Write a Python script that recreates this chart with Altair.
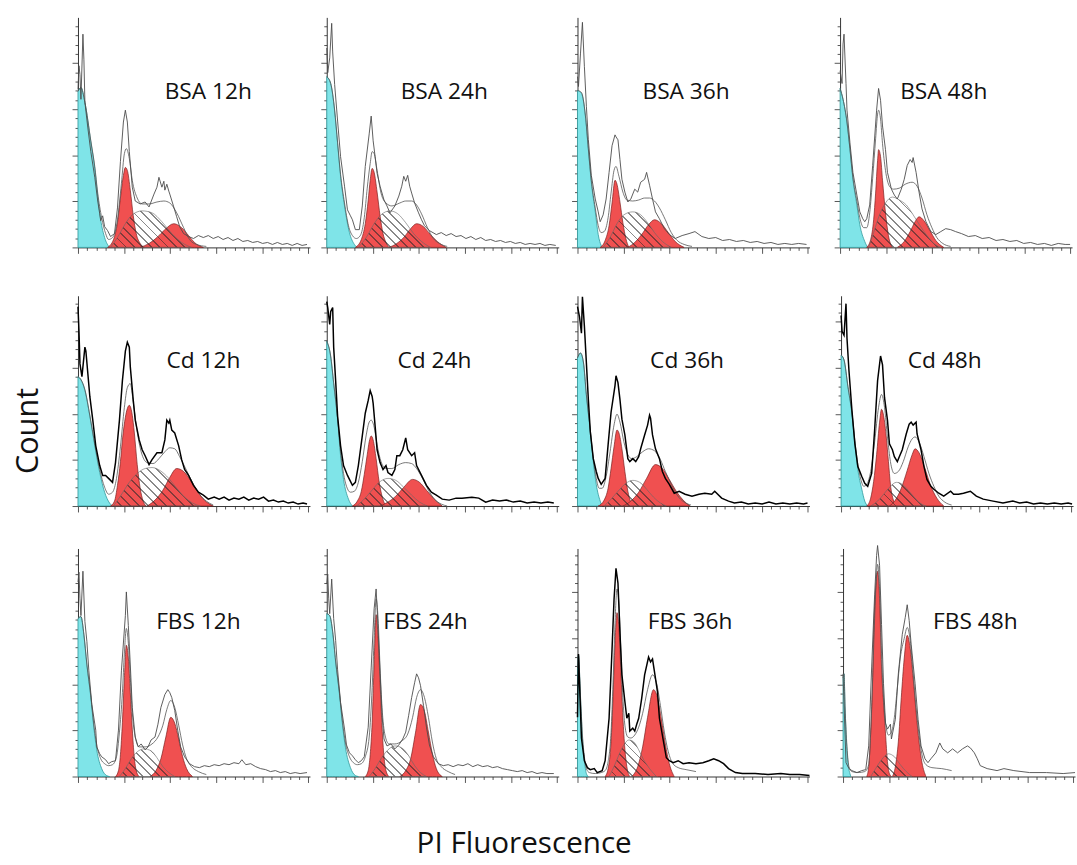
import math
import altair as alt
import pandas as pd

# ---------------- data (x = PI channel, y = count) ----------------
# Row 1 : BSA
BSA12_cyan = [[0,158],[3,162],[7,147],[13,107],[17,80],[20,52],[23,28],[27,10],[32,0]]
BSA12_g1 = [[30,0],[36,8],[40,25],[43,50],[46,73],[48,81],[50,78],[53,58],[56,32],[59,14],[63,4],[67,0]]
BSA12_s = [[33,0],[40,10],[48,24],[55,33],[65,37],[75,35],[85,26],[95,14],[105,5],[115,0]]
BSA12_g2 = [[63,0],[72,4],[80,10],[88,18],[97,24],[105,20],[112,12],[118,5],[127,0]]
BSA12_fit = [[0,158],[3,162],[7,147],[13,108],[17,82],[20,55],[24,30],[28,14],[31,8],[35,10],[40,28],[44,65],[47,95],[49,100],[52,90],[55,68],[60,50],[65,44],[72,44],[80,46],[87,47],[93,45],[100,35],[107,20],[113,8],[120,3],[130,1]]
BSA12_hist = [[0,160],[1,184],[2,175],[3,150],[5,216],[6,190],[7,147],[10,121],[13,97],[17,71],[20,47],[22,34],[23,27],[25,32],[27,21],[30,17],[33,11],[37,14],[40,40],[43,87],[46,127],[48,139],[50,127],[52,97],[55,61],[58,47],[63,44],[68,46],[72,41],[77,54],[80,61],[82,71],[85,61],[87,67],[88,58],[90,64],[92,57],[93,54],[97,41],[100,31],[103,21],[107,14],[112,11],[117,9],[122,12],[127,10],[132,12],[137,9],[142,11],[147,8],[152,10],[157,7],[162,9],[167,6],[172,7],[177,5],[182,6],[187,4],[192,5],[197,3],[202,5],[207,3],[212,4],[217,2],[222,4],[227,2],[232,3]]

BSA24_cyan = [[0,173],[4,166],[8,138],[11,105],[14,72],[18,42],[23,15],[28,3],[31,0]]
BSA24_g1 = [[29,0],[35,8],[39,24],[42,48],[44,68],[46,80],[48,76],[51,56],[54,32],[57,14],[60,5],[63,0]]
BSA24_s = [[32,0],[40,10],[48,24],[55,33],[64,37],[72,34],[80,25],[88,14],[96,6],[105,0]]
BSA24_g2 = [[63,0],[71,4],[78,10],[85,19],[91,24],[98,21],[105,13],[112,6],[121,0]]
BSA24_fit = [[0,173],[4,166],[8,139],[11,106],[14,74],[18,45],[22,22],[26,12],[30,9],[34,12],[38,30],[41,60],[44,85],[46,97],[48,95],[51,78],[55,55],[60,45],[66,42],[74,45],[80,47],[86,47],[91,43],[96,34],[102,20],[108,9],[114,4],[122,1]]
BSA24_hist = [[0,202],[1,177],[3,192],[5,227],[6,198],[8,165],[11,128],[14,92],[18,62],[21,38],[24,32],[26,28],[29,18],[33,18],[36,42],[39,82],[43,115],[45,133],[47,108],[49,92],[51,75],[54,62],[58,48],[61,42],[64,35],[69,42],[73,52],[76,62],[78,72],[80,67],[82,73],[84,62],[86,55],[89,45],[93,35],[96,28],[99,22],[104,17],[111,13],[116,15],[121,12],[126,14],[131,11],[136,12],[141,9],[146,11],[151,8],[156,10],[161,7],[166,8],[171,6],[176,7],[181,5],[186,6],[191,4],[196,5],[201,3],[206,4],[211,3],[216,4],[221,2],[226,3],[232,2]]

BSA36_cyan = [[0,159],[4,156],[8,133],[11,99],[14,66],[18,36],[21,13],[24,2],[26,0]]
BSA36_g1 = [[23,0],[28,7],[32,22],[35,45],[38,68],[40,64],[43,46],[46,25],[49,9],[52,0]]
BSA36_s = [[26,0],[33,10],[40,24],[47,33],[56,36],[64,33],[71,25],[78,15],[86,6],[95,0]]
BSA36_g2 = [[51,0],[58,5],[65,13],[72,23],[78,28],[85,24],[92,15],[99,6],[108,0]]
BSA36_fit = [[0,159],[4,157],[8,134],[11,100],[14,68],[18,40],[21,22],[24,15],[27,16],[31,30],[34,55],[37,78],[39,82],[42,72],[46,56],[50,48],[56,47],[62,48],[68,50],[73,50],[78,47],[83,40],[89,28],[95,15],[101,7],[108,3],[116,1]]
BSA36_hist = [[0,173],[1,163],[3,196],[5,228],[7,183],[9,143],[11,109],[14,73],[18,49],[21,36],[23,26],[26,33],[29,49],[32,76],[35,103],[38,114],[39,112],[41,109],[43,89],[45,69],[48,56],[51,46],[54,49],[58,59],[61,56],[64,66],[68,69],[70,76],[73,63],[76,49],[79,36],[83,29],[88,19],[93,13],[99,9],[106,12],[113,14],[119,16],[126,11],[133,9],[140,10],[147,7],[154,8],[161,6],[168,7],[175,5],[182,6],[189,4],[196,5],[203,3],[210,4],[217,3],[224,4],[232,3]]

BSA48_cyan = [[0,161],[3,150],[7,126],[10,99],[13,69],[17,43],[20,23],[25,6],[28,0]]
BSA48_g1 = [[27,0],[31,8],[34,28],[36,55],[38,88],[39,99],[41,92],[43,68],[46,35],[49,12],[53,0]]
BSA48_s = [[29,0],[34,15],[40,33],[46,45],[53,51],[60,48],[67,43],[74,33],[81,22],[88,12],[95,4],[102,0]]
BSA48_g2 = [[58,0],[65,6],[71,16],[76,26],[80,31],[85,27],[91,17],[97,7],[105,0]]
BSA48_fit = [[0,161],[3,150],[7,127],[10,100],[13,71],[17,47],[20,30],[24,20],[27,20],[30,35],[33,70],[36,110],[38,135],[39,139],[41,130],[43,105],[46,78],[50,62],[54,59],[60,60],[66,64],[73,66],[78,62],[83,50],[88,33],[93,20],[98,10],[104,4],[112,1]]
BSA48_hist = [[0,179],[2,166],[3,206],[4,216],[6,166],[7,139],[10,106],[13,76],[17,53],[20,36],[23,29],[25,26],[27,29],[30,43],[33,83],[37,139],[39,161],[41,149],[43,123],[46,99],[48,76],[52,59],[55,53],[58,49],[62,59],[65,69],[68,83],[71,89],[73,86],[74,91],[77,76],[80,56],[83,39],[87,26],[92,16],[97,13],[102,16],[107,19],[112,18],[117,16],[123,14],[130,11],[137,12],[144,9],[151,10],[158,7],[165,8],[172,6],[179,7],[186,4],[193,5],[200,3],[207,4],[214,2],[221,4],[228,3],[233,3]]

# Row 2 : Cd
CD12_cyan = [[0,131],[3,128],[7,117],[12,91],[17,61],[22,34],[27,14],[32,3],[35,0]]
CD12_g1 = [[33,0],[37,5],[40,21],[43,45],[45,67],[48,90],[52,102],[55,92],[57,75],[60,42],[63,18],[66,5],[69,0]]
CD12_s = [[36,0],[43,10],[52,24],[60,33],[68,38],[75,39],[83,36],[92,28],[100,18],[108,9],[116,3],[124,0]]
CD12_g2 = [[70,0],[78,6],[86,16],[93,29],[100,38],[107,35],[114,26],[121,15],[128,6],[137,0]]
CD12_fit = [[0,131],[3,128],[7,118],[12,92],[17,63],[22,37],[27,19],[31,12],[35,14],[39,28],[43,60],[47,100],[50,120],[53,124],[56,105],[60,75],[64,55],[70,44],[76,43],[82,48],[88,55],[93,59],[98,58],[103,50],[110,36],[117,22],[123,12],[130,5],[137,1]]
CD12_hist = [[0,202],[1,177],[2,144],[4,131],[7,161],[8,157],[10,134],[12,111],[15,87],[18,61],[22,41],[25,31],[28,31],[32,27],[35,24],[38,44],[42,87],[45,127],[48,157],[50,166],[52,161],[53,141],[56,107],[58,87],[62,67],[65,57],[68,51],[72,42],[75,47],[80,54],[85,54],[88,67],[90,87],[92,84],[93,87],[95,77],[98,74],[102,61],[105,47],[108,37],[112,31],[117,21],[122,14],[127,11],[132,7],[138,9],[143,7],[148,9],[153,6],[158,8],[163,7],[168,9],[173,6],[178,8],[183,7],[188,9],[193,5],[198,6],[203,4],[208,5],[213,3],[218,4],[223,2],[228,3],[232,2]]

CD24_cyan = [[0,167],[4,151],[7,124],[11,87],[14,51],[17,27],[22,7],[26,0]]
CD24_g1 = [[26,0],[31,5],[35,15],[38,32],[41,52],[43,65],[45,71],[47,67],[50,48],[53,25],[56,10],[59,2],[62,0]]
CD24_s = [[30,0],[37,6],[45,15],[53,24],[62,28],[70,26],[78,19],[86,11],[94,4],[102,0]]
CD24_g2 = [[54,0],[62,4],[70,10],[78,19],[87,27],[94,24],[101,16],[108,8],[117,0]]
CD24_fit = [[0,167],[4,152],[7,125],[11,89],[14,55],[17,33],[20,20],[24,14],[28,15],[32,24],[36,45],[40,72],[43,85],[45,87],[48,80],[51,62],[55,45],[60,38],[66,38],[73,42],[80,44],[86,43],[91,38],[97,28],[103,16],[109,7],[116,2],[122,0]]
CD24_hist = [[0,207],[1,201],[3,184],[4,197],[6,201],[7,161],[9,127],[11,91],[14,61],[17,41],[21,31],[23,27],[26,21],[29,24],[32,41],[36,71],[39,94],[42,107],[44,117],[46,111],[47,104],[49,81],[51,57],[54,44],[57,37],[60,41],[62,34],[66,31],[69,37],[71,51],[74,51],[77,57],[80,69],[82,57],[86,51],[89,54],[91,41],[96,31],[101,21],[106,14],[111,11],[117,7],[124,6],[131,8],[137,8],[147,9],[154,8],[161,4],[168,6],[175,5],[182,6],[189,4],[196,5],[203,3],[210,4],[217,3],[224,4],[230,3]]

CD36_cyan = [[0,150],[3,155],[6,145],[9,112],[13,75],[16,45],[19,22],[23,5],[25,0]]
CD36_g1 = [[21,0],[27,6],[31,18],[34,38],[37,60],[40,77],[42,74],[45,58],[48,35],[51,15],[54,4],[57,0]]
CD36_s = [[27,0],[34,7],[42,16],[49,23],[56,26],[63,24],[70,17],[77,9],[84,3],[90,0]]
CD36_g2 = [[46,0],[54,5],[62,14],[70,28],[79,42],[86,38],[93,27],[100,15],[107,6],[114,0]]
CD36_fit = [[0,150],[3,155],[6,146],[9,113],[13,77],[16,48],[19,28],[22,18],[25,18],[29,30],[33,55],[37,82],[40,93],[43,85],[47,65],[51,52],[55,48],[60,50],[66,55],[72,58],[78,56],[84,47],[89,35],[95,22],[101,11],[108,4],[115,1]]
CD36_hist = [[0,202],[2,192],[4,175],[5,212],[7,182],[9,145],[11,108],[13,75],[16,48],[19,35],[21,28],[24,22],[28,28],[31,62],[34,95],[38,122],[39,132],[41,125],[43,108],[45,88],[48,72],[51,48],[53,45],[56,48],[59,45],[62,50],[64,58],[68,72],[71,82],[73,92],[74,89],[76,72],[79,58],[83,48],[86,35],[89,28],[93,22],[98,13],[103,15],[109,12],[116,10],[123,12],[129,13],[136,12],[139,15],[146,8],[153,5],[159,3],[166,4],[173,2],[180,3],[187,2],[194,4],[201,2],[208,3],[215,2],[222,3],[229,2],[233,3]]

CD48_cyan = [[0,153],[3,148],[7,120],[11,93],[14,63],[17,37],[21,17],[24,5],[27,0]]
CD48_g1 = [[26,0],[30,8],[33,25],[36,52],[39,85],[41,98],[43,92],[46,68],[48,45],[50,22],[53,6],[56,0]]
CD48_s = [[30,0],[37,5],[44,13],[50,20],[56,24],[62,22],[68,16],[74,9],[80,3],[86,0]]
CD48_g2 = [[49,0],[55,6],[61,18],[67,36],[72,52],[75,58],[79,54],[85,38],[91,20],[97,8],[104,0]]
CD48_fit = [[0,153],[3,148],[7,121],[11,95],[14,66],[17,42],[20,27],[23,20],[26,22],[30,35],[34,65],[38,100],[41,113],[44,100],[47,70],[50,45],[54,33],[58,35],[63,45],[68,60],[72,68],[75,70],[79,65],[84,50],[89,33],[94,20],[99,10],[105,4],[112,1]]
CD48_hist = [[0,193],[1,177],[3,173],[5,205],[6,170],[8,137],[11,97],[14,63],[17,40],[21,30],[24,23],[27,20],[31,33],[34,77],[37,127],[40,152],[42,143],[44,110],[47,87],[49,63],[52,57],[54,50],[57,45],[59,50],[62,57],[66,73],[69,83],[71,85],[73,82],[76,85],[77,73],[81,57],[84,40],[87,27],[91,20],[94,17],[99,13],[104,10],[111,15],[114,12],[119,12],[124,13],[131,15],[137,10],[144,7],[154,5],[164,3],[174,5],[181,3],[188,4],[195,2],[202,3],[209,2],[216,3],[223,2],[230,3],[234,2]]

# Row 3 : FBS
FBS12_cyan = [[0,160],[3,162],[6,143],[9,113],[13,80],[16,50],[19,27],[24,8],[29,1],[32,0]]
FBS12_g1 = [[38,0],[41,6],[43,22],[45,55],[47,100],[49,133],[51,120],[53,85],[55,48],[57,20],[59,6],[62,0]]
FBS12_s = [[42,0],[48,8],[54,18],[60,25],[67,28],[74,26],[80,19],[86,10],[92,4],[98,0]]
FBS12_g2 = [[73,0],[79,6],[84,18],[89,40],[94,60],[98,54],[102,38],[106,20],[110,8],[116,0]]
FBS12_fit = [[0,160],[3,162],[6,144],[9,114],[13,82],[16,53],[19,32],[23,18],[27,13],[31,11],[35,12],[39,20],[42,45],[45,85],[47,125],[49,150],[51,135],[53,100],[55,65],[58,40],[62,30],[68,30],[75,33],[81,40],[86,52],[90,68],[94,77],[98,70],[102,52],[106,32],[110,18],[115,10],[122,5],[130,2]]
FBS12_hist = [[0,197],[1,207],[2,180],[3,163],[5,208],[7,157],[9,137],[11,107],[14,73],[18,47],[19,30],[22,23],[24,20],[28,17],[31,13],[34,15],[38,16],[41,47],[44,107],[48,163],[49,187],[51,153],[53,113],[55,70],[58,40],[61,30],[64,33],[68,27],[71,30],[74,37],[78,40],[81,53],[84,70],[88,83],[91,88],[93,85],[95,80],[98,67],[101,47],[104,30],[108,20],[113,13],[118,10],[123,9],[128,11],[133,10],[138,12],[143,11],[148,13],[153,12],[158,14],[163,13],[166,17],[170,12],[175,13],[180,10],[185,8],[190,7],[195,5],[200,6],[205,4],[210,5],[215,3],[220,4],[225,3],[232,4]]

FBS24_cyan = [[0,165],[3,163],[6,146],[9,116],[13,82],[16,52],[19,29],[24,9],[29,1],[32,0]]
FBS24_g1 = [[39,0],[42,6],[44,22],[46,55],[48,115],[50,164],[52,140],[54,95],[56,50],[58,20],[60,6],[63,0]]
FBS24_s = [[43,0],[49,8],[55,18],[62,27],[69,31],[76,29],[83,21],[89,11],[95,4],[101,0]]
FBS24_g2 = [[74,0],[80,6],[85,18],[90,45],[95,73],[99,66],[103,45],[107,23],[111,8],[117,0]]
FBS24_fit = [[0,165],[3,163],[6,147],[9,117],[13,84],[16,55],[19,34],[23,20],[27,14],[31,12],[35,13],[39,20],[43,40],[46,90],[48,140],[50,180],[52,160],[54,110],[56,70],[59,42],[63,33],[69,33],[76,36],[82,43],[87,60],[91,80],[95,88],[99,80],[103,60],[107,35],[111,18],[116,10],[123,5],[130,2]]
FBS24_hist = [[0,195],[1,205],[2,180],[3,165],[5,200],[7,160],[9,138],[11,108],[14,75],[18,48],[20,32],[23,24],[26,21],[29,17],[32,14],[35,16],[38,20],[42,50],[45,110],[48,170],[50,190],[52,150],[54,105],[56,62],[58,38],[61,31],[65,33],[69,28],[73,32],[77,38],[80,45],[83,62],[86,80],[89,95],[91,104],[93,100],[95,92],[98,72],[101,50],[104,32],[108,20],[113,13],[118,11],[123,12],[128,10],[133,12],[138,11],[143,13],[148,10],[153,12],[158,10],[163,11],[168,9],[173,10],[178,8],[183,7],[188,6],[193,5],[198,6],[203,4],[208,5],[213,3],[218,4],[223,3],[230,3]]

FBS36_cyan = [[0,110],[1,123],[3,80],[5,39],[7,16],[9,3],[11,0]]
FBS36_g1 = [[28,0],[31,8],[34,35],[36,80],[38,135],[40,166],[42,150],[44,105],[46,60],[48,28],[50,10],[53,0]]
FBS36_s = [[32,0],[37,10],[42,22],[47,32],[52,37],[57,35],[62,27],[67,17],[73,8],[80,0]]
FBS36_g2 = [[55,0],[61,10],[66,30],[71,60],[77,88],[81,80],[85,58],[89,33],[93,13],[98,0]]
FBS36_fit = [[0,110],[1,123],[3,82],[5,42],[7,20],[9,8],[12,4],[18,3],[24,4],[28,6],[31,15],[34,45],[36,95],[38,155],[40,190],[42,175],[44,125],[46,80],[48,52],[51,40],[54,39],[58,42],[62,50],[66,64],[71,88],[76,103],[80,95],[84,72],[88,45],[92,25],[96,14],[102,9],[110,7],[120,5]]
FBS36_hist = [[0,60],[1,124],[4,39],[7,16],[10,9],[13,7],[17,8],[20,4],[25,6],[28,16],[32,59],[35,129],[37,179],[39,211],[41,196],[43,146],[45,103],[48,76],[50,59],[52,64],[53,46],[56,49],[58,46],[60,53],[62,59],[65,79],[68,103],[72,121],[74,116],[76,119],[78,106],[81,86],[83,59],[87,36],[90,19],[93,16],[97,14],[102,16],[107,13],[113,14],[120,13],[127,14],[133,16],[138,18],[143,16],[148,13],[153,8],[160,4],[167,3],[180,3],[193,2],[206,3],[215,2],[225,2],[235,1]]

FBS48_cyan = [[0,100],[1,104],[2,71],[3,45],[5,14],[7,3],[8,0]]
FBS48_g1 = [[24,0],[26,10],[28,44],[30,100],[31,144],[33,190],[35,208],[37,180],[39,111],[41,75],[43,44],[45,15],[47,3],[49,0]]
FBS48_s = [[28,0],[33,8],[39,17],[46,23],[52,20],[58,12],[64,5],[70,0]]
FBS48_g2 = [[50,0],[53,10],[56,35],[59,80],[62,120],[65,143],[68,130],[71,100],[74,65],[77,35],[80,14],[84,0]]
FBS48_fit = [[0,100],[1,104],[2,72],[4,30],[6,10],[9,5],[15,4],[22,5],[26,12],[28,45],[30,100],[32,160],[34,205],[35,215],[37,190],[39,125],[41,80],[43,55],[46,42],[49,45],[52,60],[55,90],[58,120],[62,140],[65,151],[68,138],[71,105],[74,70],[77,42],[80,22],[84,12],[90,9],[100,8],[110,6]]
FBS48_hist = [[0,104],[3,14],[6,8],[9,6],[14,4],[19,6],[23,7],[26,31],[29,111],[32,184],[34,224],[35,234],[37,214],[39,154],[41,94],[43,54],[45,48],[48,53],[49,38],[53,58],[56,104],[60,144],[63,161],[65,174],[67,158],[69,134],[73,94],[76,58],[79,31],[83,18],[86,14],[89,18],[94,24],[98,34],[101,28],[106,24],[111,28],[116,24],[121,28],[126,31],[129,29],[133,24],[136,18],[139,11],[146,8],[156,6],[163,8],[173,6],[189,4],[206,4],[223,3],[235,4]]

LABELS = ["BSA 12h", "BSA 24h", "BSA 36h", "BSA 48h",
          "Cd 12h", "Cd 24h", "Cd 36h", "Cd 48h",
          "FBS 12h", "FBS 24h", "FBS 36h", "FBS 48h"]
LABEL_X = [132, 119, 110, 105, 127, 109, 111, 105, 122, 100, 114, 134]
LABEL_Y = [150, 150, 150, 150, 140, 140, 140, 140, 149, 149, 149, 149]
ROW_H = [233, 213, 231]

# ---------------- styling ----------------
PW = 235
XMAX = 235
TICK = 9.333
CYAN = "#7fe4e8"
CYAN_EDGE = "#2f9a9c"
RED = "#f05050"
RED_EDGE = "#7a1e1e"
FONT = "Open Sans"

tick_size = {"condition": {"test": "round(datum.value / 9.333) % 5 === 0", "value": 6}, "value": 3}


def axis_for(limit):
    vals = [round(i * TICK, 3) for i in range(int(limit / TICK) + 1)]
    return alt.Axis(values=vals, labels=False, title=None, grid=False,
                    domainColor="#333", domainWidth=1, tickColor="#555",
                    tickWidth=1, tickSize=tick_size)


def frame(pts):
    return pd.DataFrame(pts, columns=["x", "y"])


def hatch(pts, period=6.2, duty=0.78):
    xs = [p[0] for p in pts]
    w = max(xs) - min(xs)
    h = max(p[1] for p in pts)
    k = (w + h) / (w * w + h * h)
    n = max(2, round((w + h) / (math.sqrt(2) * period)))
    clear = "rgba(0,0,0,0)"
    ink = "rgba(40,40,40,0.55)"
    stops = []
    for i in range(n):
        a = round(i / n, 5)
        b = round((i + duty) / n, 5)
        c = round((i + 1) / n, 5)
        stops += [alt.GradientStop(offset=a, color=clear), alt.GradientStop(offset=b, color=clear),
                  alt.GradientStop(offset=b, color=ink), alt.GradientStop(offset=c, color=ink)]
    return alt.LinearGradient(gradient="linear", stops=stops, x1=0, y1=1,
                              x2=round(w * k, 5), y2=round(1 - h * k, 5))


def panel(idx, cyan, g1, s, g2, fit, hist, H, hcol, hw):
    X = alt.X("x:Q", scale=alt.Scale(domain=[0, XMAX], nice=False), axis=axis_for(XMAX))
    Y = alt.Y("y:Q", scale=alt.Scale(domain=[0, H], nice=False), axis=axis_for(H))
    layers = [
        alt.Chart(frame(cyan)).mark_area(fill=CYAN, stroke=CYAN_EDGE, strokeWidth=0.8,
                                         interpolate="monotone").encode(x=X, y=Y),
        alt.Chart(frame(g1)).mark_area(fill=RED, stroke=RED_EDGE, strokeWidth=0.7,
                                       interpolate="monotone").encode(x=X, y=Y),
        alt.Chart(frame(g2)).mark_area(fill=RED, stroke=RED_EDGE, strokeWidth=0.7,
                                       interpolate="monotone").encode(x=X, y=Y),
        alt.Chart(frame(s)).mark_area(fill=hatch(s), stroke="#666", strokeWidth=0.6,
                                      interpolate="monotone").encode(x=X, y=Y),
        alt.Chart(frame(fit)).mark_line(color="#555555", strokeWidth=0.8,
                                        interpolate="monotone").encode(x=X, y=Y),
        alt.Chart(frame(hist)).mark_line(color=hcol, strokeWidth=hw).encode(x=X, y=Y),
        alt.Chart(pd.DataFrame({"x": [LABEL_X[idx]], "y": [LABEL_Y[idx]], "t": [LABELS[idx]]}))
        .mark_text(font=FONT, fontSize=23, align="center", baseline="alphabetic", color="#111")
        .encode(x=X, y=Y, text="t:N"),
    ]
    return alt.layer(*layers).properties(width=PW, height=H)


GREY = "#4a4a4a"
BLACK = "#000000"
specs = [
    (BSA12_cyan, BSA12_g1, BSA12_s, BSA12_g2, BSA12_fit, BSA12_hist, GREY, 0.9),
    (BSA24_cyan, BSA24_g1, BSA24_s, BSA24_g2, BSA24_fit, BSA24_hist, GREY, 0.9),
    (BSA36_cyan, BSA36_g1, BSA36_s, BSA36_g2, BSA36_fit, BSA36_hist, GREY, 0.9),
    (BSA48_cyan, BSA48_g1, BSA48_s, BSA48_g2, BSA48_fit, BSA48_hist, GREY, 0.9),
    (CD12_cyan, CD12_g1, CD12_s, CD12_g2, CD12_fit, CD12_hist, BLACK, 1.5),
    (CD24_cyan, CD24_g1, CD24_s, CD24_g2, CD24_fit, CD24_hist, BLACK, 1.5),
    (CD36_cyan, CD36_g1, CD36_s, CD36_g2, CD36_fit, CD36_hist, BLACK, 1.5),
    (CD48_cyan, CD48_g1, CD48_s, CD48_g2, CD48_fit, CD48_hist, BLACK, 1.5),
    (FBS12_cyan, FBS12_g1, FBS12_s, FBS12_g2, FBS12_fit, FBS12_hist, GREY, 0.9),
    (FBS24_cyan, FBS24_g1, FBS24_s, FBS24_g2, FBS24_fit, FBS24_hist, GREY, 0.9),
    (FBS36_cyan, FBS36_g1, FBS36_s, FBS36_g2, FBS36_fit, FBS36_hist, BLACK, 1.5),
    (FBS48_cyan, FBS48_g1, FBS48_s, FBS48_g2, FBS48_fit, FBS48_hist, GREY, 0.9),
]

panels = []
for i, sp in enumerate(specs):
    c, g1, s, g2, fit, hist, hcol, hw = sp
    panels.append(panel(i, c, g1, s, g2, fit, hist, ROW_H[i // 4], hcol, hw))


def row(r):
    p = panels[4 * r:4 * r + 4]
    left = alt.hconcat(alt.hconcat(p[0], p[1], spacing=10), p[2], spacing=12)
    return alt.hconcat(left, p[3], spacing=24)


grid = alt.vconcat(row(0), alt.vconcat(row(1), row(2), spacing=31), spacing=39)

count_chart = alt.Chart(pd.DataFrame({"t": ["Count"]})).mark_text(
    angle=270, font=FONT, fontSize=31, align="center", baseline="middle", color="#111"
).encode(x=alt.value(30), y=alt.value(419), text="t:N").properties(width=40, height=760)

xlabel_chart = alt.Chart(pd.DataFrame({"t": ["PI Fluorescence"]})).mark_text(
    font=FONT, fontSize=30, align="center", baseline="alphabetic", color="#111"
).encode(x=alt.value(531), y=alt.value(70), text="t:N").properties(width=1000, height=74)

chart = alt.vconcat(
    alt.hconcat(count_chart, grid, spacing=27),
    xlabel_chart,
    spacing=0,
).properties(
    padding={"left": 0, "top": 12, "right": 0, "bottom": 0},
    background="white",
).configure_view(strokeWidth=0)

chart.save("out.html", embed_options={"renderer": "svg", "actions": False})
